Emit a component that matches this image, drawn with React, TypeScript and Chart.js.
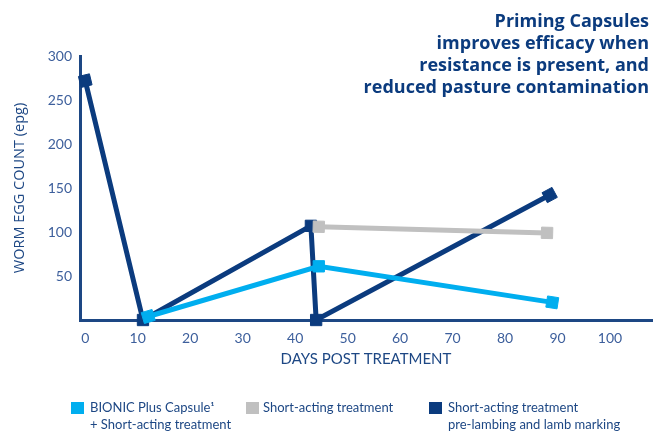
import React, { useEffect, useRef } from 'react';
import { Chart, registerables } from 'chart.js';

Chart.register(...registerables);

// ---- data ----
const X_TICKS = [0, 10, 20, 30, 40, 50, 60, 70, 80, 90, 100];
const Y_TICKS = [0, 50, 100, 150, 200, 250, 300];

const BIONIC_DAYS = [12, 44.5, 89];
const BIONIC_EPG = [4, 61, 20];

const SHORT_DAYS = [44.5, 88];
const SHORT_EPG = [106, 99];

const PRE_DAYS = [0, 11, 43, 44, 88.5];
const PRE_EPG = [272, 0, 107, 0, 142];

const SERIES_NAMES = [
  ['BIONIC Plus Capsule\u00B9', '+ Short-acting treatment'],
  ['Short-acting treatment'],
  ['Short-acting treatment', 'pre-lambing and lamb marking'],
];
const TITLE_LINES = [
  'Priming Capsules',
  'improves efficacy when',
  'resistance is present, and',
  'reduced pasture contamination',
];
const X_TITLE = 'DAYS POST TREATMENT';
const Y_TITLE = 'WORM EGG COUNT (epg)';

// ---- styles ----
const NAVY = '#0b3b7e';
const LIGHT = '#00aeef';
const GREY = '#c0c0c0';
const AXIS = '#1d4784';
const TICK = '#3d5f9c';
const FONT = 'Lato, "Open Sans", sans-serif';
const WIDE = '"Open Sans", Lato, sans-serif';
const COLORS = [LIGHT, GREY, NAVY];

const toPoints = (xs: number[], ys: number[]) => xs.map((x, i) => ({ x, y: ys[i] }));

const endRotation = (ctx: any) => {
  const data = ctx.dataset.data;
  const i = ctx.dataIndex;
  const n = data.length;
  if (i !== 0 && i !== n - 1) return 0;
  const a = data[i === 0 ? 0 : n - 2];
  const b = data[i === 0 ? 1 : n - 1];
  const xs = ctx.chart.scales.x;
  const ys = ctx.chart.scales.y;
  if (!xs || !ys) return 0;
  const dx = xs.getPixelForValue(b.x) - xs.getPixelForValue(a.x);
  const dy = ys.getPixelForValue(b.y) - ys.getPixelForValue(a.y);
  return (Math.atan2(dy, dx) * 180) / Math.PI;
};

const overlayPlugin = {
  id: 'overlay',
  afterDraw(chart: any) {
    const ctx = chart.ctx;
    ctx.save();
    // title block
    ctx.fillStyle = NAVY;
    ctx.font = `bold 18px ${WIDE}`;
    ctx.textAlign = 'right';
    ctx.textBaseline = 'alphabetic';
    TITLE_LINES.forEach((t, i) => ctx.fillText(t, 649, 27 + i * 22));
    // legend
    const boxes = [
      { sx: 71, tx: 90 },
      { sx: 246, tx: 263 },
      { sx: 429, tx: 448 },
    ];
    ctx.textAlign = 'left';
    ctx.textBaseline = 'middle';
    ctx.font = `13px ${FONT}`;
    SERIES_NAMES.forEach((lines, k) => {
      ctx.fillStyle = COLORS[k];
      ctx.fillRect(boxes[k].sx, 402, 13, 12);
      ctx.fillStyle = AXIS;
      lines.forEach((l, j) => ctx.fillText(l, boxes[k].tx, 408 + j * 17));
    });
    ctx.restore();
  },
};

export default function App() {
  const ref = useRef<HTMLCanvasElement>(null);
  useEffect(() => {
    if (!ref.current) return;
    const mk = (label: string, xs: number[], ys: number[], color: string) => ({
      label,
      data: toPoints(xs, ys),
      borderColor: color,
      backgroundColor: color,
      borderWidth: 5,
      pointStyle: 'rect',
      pointRadius: 8,
      pointBorderWidth: 1,
      pointBackgroundColor: color,
      pointBorderColor: color,
      pointRotation: endRotation,
      tension: 0,
      clip: false as any,
    });
    const chart = new Chart(ref.current, {
      type: 'line',
      data: {
        datasets: [
          mk(SERIES_NAMES[1].join(' '), SHORT_DAYS, SHORT_EPG, GREY),
          mk(SERIES_NAMES[0].join(' '), BIONIC_DAYS, BIONIC_EPG, LIGHT),
          mk(SERIES_NAMES[2].join(' '), PRE_DAYS, PRE_EPG, NAVY),
        ] as any,
      },
      options: {
        responsive: false,
        animation: false,
        devicePixelRatio: 1,
        layout: { padding: { top: 56, right: 13, bottom: 50, left: 0 } },
        plugins: { legend: { display: false }, tooltip: { enabled: false }, title: { display: false } },
        scales: {
          x: {
            type: 'linear',
            min: -1,
            max: 108,
            border: { color: AXIS, width: 3 },
            grid: { display: false, drawTicks: false },
            afterBuildTicks: (s: any) => {
              s.ticks = X_TICKS.map((v) => ({ value: v }));
            },
            afterFit: (s: any) => {
              s.height = 62;
            },
            ticks: {
              color: TICK,
              font: { family: FONT, size: 14 },
              padding: 10,
              maxRotation: 0,
              autoSkip: false,
            },
            title: {
              display: true,
              text: X_TITLE,
              color: AXIS,
              font: { family: FONT, size: 15 },
              padding: { top: 0, bottom: 14 },
            },
          },
          y: {
            type: 'linear',
            min: 0,
            max: 300,
            border: { color: AXIS, width: 3 },
            grid: { display: false, drawTicks: false },
            afterBuildTicks: (s: any) => {
              s.ticks = Y_TICKS.map((v) => ({ value: v }));
            },
            afterFit: (s: any) => {
              s.width = 80;
            },
            ticks: {
              color: TICK,
              font: { family: FONT, size: 14 },
              padding: 8,
              callback: (v: any) => (v === 0 ? '' : String(v)),
            },
            title: {
              display: true,
              text: Y_TITLE,
              color: AXIS,
              font: { family: WIDE, size: 14.5 },
              padding: { top: 11, bottom: 0 },
            },
          },
        },
      } as any,
      plugins: [overlayPlugin],
    });
    return () => chart.destroy();
  }, []);
  return (
    <div style={{ position: 'absolute', left: 0, top: 0, width: 665, height: 432, background: '#fff' }}>
      <canvas ref={ref} width={665} height={432} />
    </div>
  );
}
